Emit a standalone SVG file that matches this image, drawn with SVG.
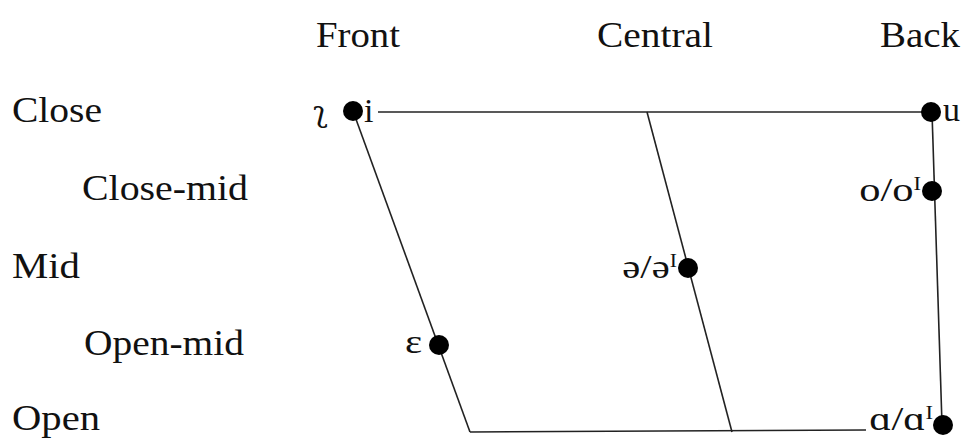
<svg xmlns="http://www.w3.org/2000/svg" width="970" height="441" viewBox="0 0 970 441">
<style>
text{font-family:"Liberation Serif","Times New Roman",serif;font-size:35px;fill:#111}
.ph{font-size:34px}
.hk{font-family:"DejaVu Serif","Liberation Serif",serif;font-size:30px}
.sup{font-size:18px}
.ln{stroke:#222;stroke-width:1.6;fill:none}
.dot{fill:#000}
</style>
<rect width="970" height="441" fill="#fff"/>
<g id="headers">
<text x="316" y="47" textLength="84" lengthAdjust="spacingAndGlyphs">Front</text>
<text x="597" y="47" textLength="116" lengthAdjust="spacingAndGlyphs">Central</text>
<text x="880" y="47" textLength="80" lengthAdjust="spacingAndGlyphs">Back</text>
</g>
<g id="rows">
<text x="12" y="122" textLength="90" lengthAdjust="spacingAndGlyphs">Close</text>
<text x="82" y="200" textLength="166" lengthAdjust="spacingAndGlyphs">Close-mid</text>
<text x="12" y="278" textLength="68" lengthAdjust="spacingAndGlyphs">Mid</text>
<text x="84" y="355" textLength="160" lengthAdjust="spacingAndGlyphs">Open-mid</text>
<text x="12" y="430" textLength="88" lengthAdjust="spacingAndGlyphs">Open</text>
</g>
<g id="connectors">
<line class="ln" x1="378" y1="112" x2="931" y2="112"/>
<line class="ln" x1="353" y1="111" x2="470" y2="432"/>
<line class="ln" x1="647" y1="112" x2="732" y2="432"/>
<line class="ln" x1="932" y1="112" x2="942" y2="424"/>
<line class="ln" x1="470" y1="432" x2="866" y2="430"/>
</g>
<g id="node-i">
<circle class="dot" cx="353" cy="111" r="10"/>
<text class="hk" x="313" y="122">ʅ</text>
<text class="ph" x="364" y="122">i</text>
</g>
<g id="node-u">
<circle class="dot" cx="931" cy="112" r="10"/>
<text class="ph" x="943" y="121">u</text>
</g>
<g id="node-o">
<circle class="dot" cx="932" cy="191" r="10"/>
<text class="ph" transform="translate(921,201) scale(1.25,1)" text-anchor="end">o/o<tspan class="sup" dy="-11">I</tspan></text>
</g>
<g id="node-schwa">
<circle class="dot" cx="688" cy="268" r="10"/>
<text class="ph" transform="translate(677,278) scale(1.2,1)" text-anchor="end">ə/ə<tspan class="sup" dy="-11">I</tspan></text>
</g>
<g id="node-epsilon">
<circle class="dot" cx="439" cy="345" r="10"/>
<text class="ph" transform="translate(405,353) scale(1.2,1)">ε</text>
</g>
<g id="node-a">
<circle class="dot" cx="943" cy="425" r="10"/>
<text class="ph" transform="translate(933,430) scale(1.25,1)" text-anchor="end">ɑ/ɑ<tspan class="sup" dy="-11">I</tspan></text>
</g>
</svg>
